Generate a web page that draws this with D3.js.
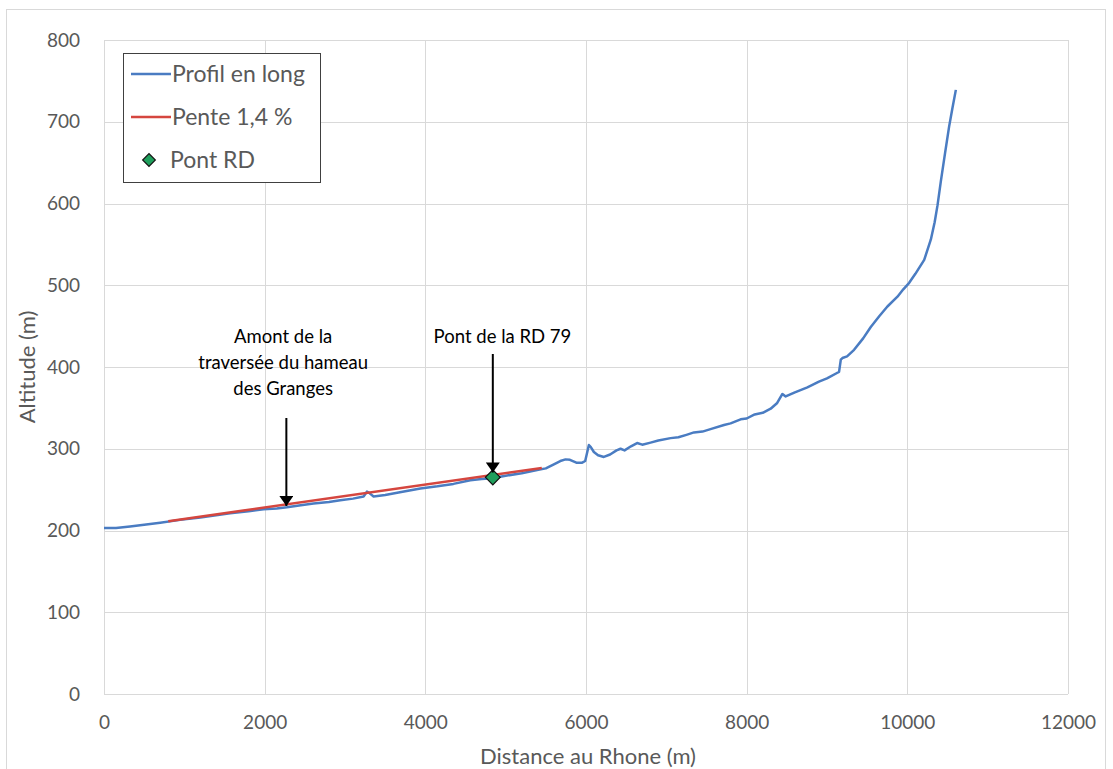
<!DOCTYPE html>
<html><head><meta charset="utf-8">
<script src="https://cdn.jsdelivr.net/npm/d3@7"></script>
<style>body{margin:0;background:#fff}svg{display:block}text{font-family:Lato,"Open Sans",sans-serif}</style>
</head><body>
<svg id="c" width="1113" height="769"></svg>
<script>
const profileDist = [0,150,324,500,700,947,1200,1570,1800,1985,2150,2277,2450,2608,2800,2941,3100,3231,3273,3300,3356,3500,3700,3938,4150,4350,4560,4700,4831,5000,5200,5392,5500,5600,5680,5745,5800,5880,5953,5990,6036,6060,6098,6150,6222,6300,6380,6430,6480,6560,6636,6700,6804,6900,7053,7150,7250,7344,7450,7550,7718,7800,7925,8000,8100,8200,8299,8380,8445,8486,8600,8756,8900,9000,9130,9150,9172,9192,9250,9337,9450,9545,9650,9752,9877,9950,10023,10100,10210,10293,10340,10376,10417,10470,10520,10560,10604];
const profileAlt = [203,203,205,207,209.5,213,216,221,223.5,226,227,228.5,231,233,235,237,239,241.5,247.5,246,241.5,243.5,247,251.5,254,257,261.5,263,264,267,270,274,276,281,285,287,286.5,283,283,285,304.5,302,296,292,290,293,298,300,298,303,307,305,307.5,310,313,314,317,320,321,324,329,331,336,337,342,344,349,356,367,364,369,375,382,386,393,394,409,411,413,421,435,449,462,474,486,495,503,514,531,556,577,598,627,662,694,716,739];
const slopeDist = [800, 5450];
const slopeAlt = [211.4, 276.5];
const bridgeDist = [4840];
const bridgeAlt = [265];
const xTicks = [0,2000,4000,6000,8000,10000,12000];
const yTicks = [0,100,200,300,400,500,600,700,800];
const legendLabels = ["Profil en long","Pente 1,4 %","Pont RD"];
const annotations = [
  {lines:["Amont de la","traversée du hameau","des Granges"], dist:2270, textDist:2230, from:418, alt:230},
  {lines:["Pont de la RD 79"], dist:4840, textDist:4960, from:354, alt:271}
];

const svg = d3.select("#c");
const x = d3.scaleLinear().domain([0,12000]).range([104,1068]);
const y = d3.scaleLinear().domain([0,800]).range([694,40]);
const blue = "#4a7cc2", red = "#d5463f", green = "#1f9f5c", grid = "#d9d9d9", txt = "#595959";

svg.append("rect").attr("x",6.5).attr("y",9.5).attr("width",1099).attr("height",775)
  .attr("fill","none").attr("stroke","#d9d9d9");

// gridlines
svg.append("g").selectAll("line").data(yTicks).join("line")
  .attr("x1",x(0)).attr("x2",x(12000)).attr("y1",d=>Math.round(y(d))+0.5).attr("y2",d=>Math.round(y(d))+0.5)
  .attr("stroke",grid).attr("stroke-width",1);
svg.append("g").selectAll("line").data(xTicks).join("line")
  .attr("y1",y(0)).attr("y2",y(800)).attr("x1",d=>Math.round(x(d))+0.5).attr("x2",d=>Math.round(x(d))+0.5)
  .attr("stroke",grid).attr("stroke-width",1);

// axes labels
const xAxis = d3.axisBottom(x).tickValues(xTicks).tickSize(0).tickPadding(20).tickFormat(d3.format("d"));
const gx = svg.append("g").attr("transform",`translate(0,${y(0)})`).call(xAxis);
gx.select(".domain").remove();
gx.selectAll("text").attr("fill",txt).attr("font-size",19).attr("font-family","Lato,sans-serif").attr("dy","0.35em").attr("y",28);
const yAxis = d3.axisLeft(y).tickValues(yTicks).tickSize(0).tickPadding(24).tickFormat(d3.format("d"));
const gy = svg.append("g").attr("transform",`translate(${x(0)},0)`).call(yAxis);
gy.select(".domain").remove();
gy.selectAll("text").attr("fill",txt).attr("font-size",19).attr("font-family","Lato,sans-serif");

svg.append("text").attr("x",588).attr("y",764).attr("text-anchor","middle").attr("fill",txt).attr("font-size",22).text("Distance au Rhone (m)");
svg.append("text").attr("transform","translate(35,367) rotate(-90)").attr("text-anchor","middle").attr("fill",txt).attr("font-size",22).text("Altitude (m)");

// lines
const line = d3.line().x(d=>x(d[0])).y(d=>y(d[1]));
svg.append("path").datum(d3.zip(profileDist,profileAlt)).attr("d",line)
  .attr("fill","none").attr("stroke",blue).attr("stroke-width",2.5).attr("stroke-linejoin","round");
svg.append("path").datum(d3.zip(slopeDist,slopeAlt)).attr("d",line)
  .attr("fill","none").attr("stroke",red).attr("stroke-width",2.5);
const diamond = d3.symbol().type(d3.symbolSquare).size(110);
svg.append("g").selectAll("path").data(d3.zip(bridgeDist,bridgeAlt)).join("path")
  .attr("d",diamond).attr("transform",d=>`translate(${x(d[0])},${y(d[1])}) rotate(45)`)
  .attr("fill",green).attr("stroke","#111").attr("stroke-width",1.2);

// annotations
svg.append("defs").append("marker").attr("id","ah").attr("viewBox","0 0 10 14").attr("refX",10).attr("refY",7)
  .attr("markerWidth",14).attr("markerHeight",14).attr("markerUnits","userSpaceOnUse").attr("orient","auto")
  .append("path").attr("d","M0,0 L10,7 L0,14 z").attr("fill","#000");
annotations.forEach(a=>{
  const t = svg.append("text").attr("text-anchor","middle").attr("font-size",18.5).attr("fill","#000");
  a.lines.forEach((l,i)=>t.append("tspan").attr("x",x(a.textDist)).attr("y",343+i*26).text(l));
  svg.append("line").attr("x1",x(a.dist)).attr("x2",x(a.dist)).attr("y1",a.from).attr("y2",y(a.alt))
    .attr("stroke","#000").attr("stroke-width",2).attr("marker-end","url(#ah)");
});

// legend
const lg = svg.append("g");
lg.append("rect").attr("x",123.5).attr("y",53.5).attr("width",197).attr("height",129).attr("fill","#fff").attr("stroke","#404040").attr("stroke-width",1);
const rows = [74,117,160];
lg.append("line").attr("x1",131).attr("x2",171).attr("y1",rows[0]).attr("y2",rows[0]).attr("stroke",blue).attr("stroke-width",2.5);
lg.append("line").attr("x1",131).attr("x2",171).attr("y1",rows[1]).attr("y2",rows[1]).attr("stroke",red).attr("stroke-width",2.5);
lg.append("path").attr("d",d3.symbol().type(d3.symbolSquare).size(80)).attr("transform",`translate(149,${rows[2]}) rotate(45)`)
  .attr("fill",green).attr("stroke","#111").attr("stroke-width",1.2);
lg.selectAll("text.lt").data(legendLabels).join("text").attr("class","lt")
  .attr("x",(d,i)=>i===2?170:172).attr("y",(d,i)=>rows[i]).attr("dy","0.35em").attr("font-size",23).attr("fill",txt).text(d=>d);
</script>
</body></html>
